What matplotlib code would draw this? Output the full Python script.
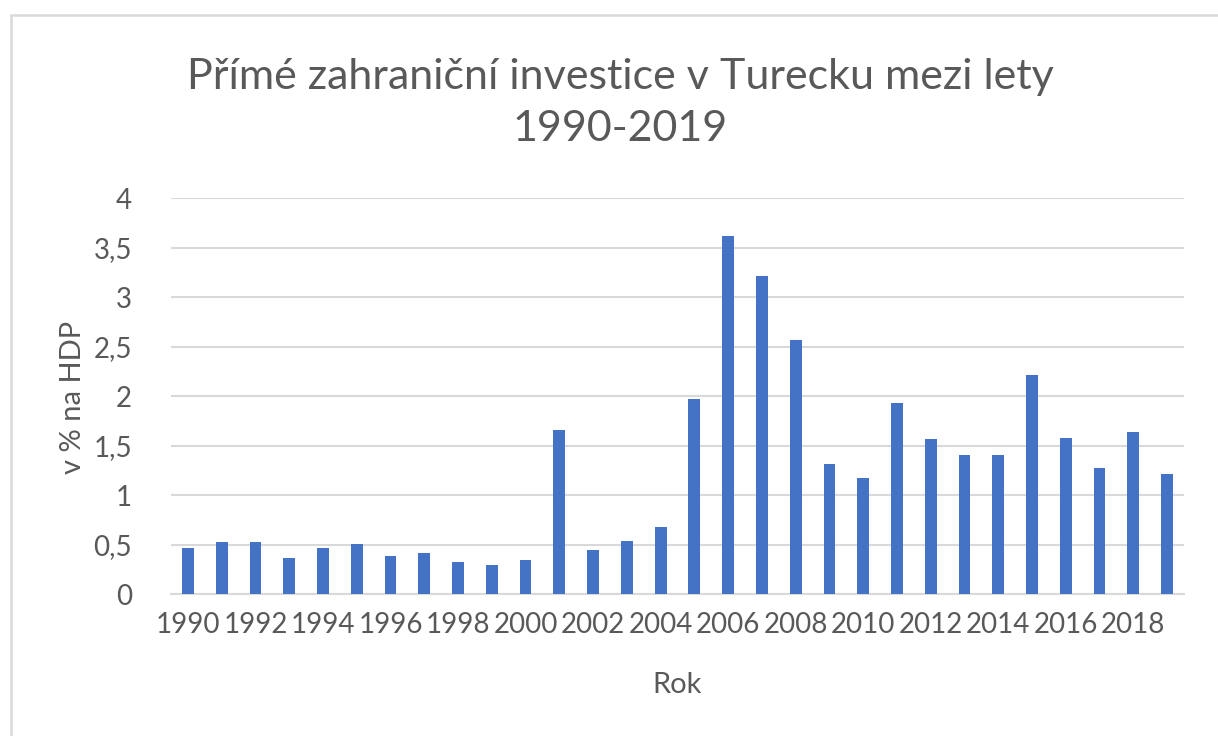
import matplotlib
matplotlib.use("Agg")
import matplotlib.pyplot as plt
from matplotlib.patches import Rectangle

years = list(range(1990, 2020))
values = [0.47, 0.53, 0.53, 0.365, 0.47, 0.51, 0.385, 0.415, 0.33, 0.30,
          0.35, 1.66, 0.45, 0.535, 0.675, 1.97, 3.62, 3.22, 2.57, 1.32,
          1.17, 1.93, 1.57, 1.41, 1.41, 2.22, 1.58, 1.28, 1.64, 1.22]
yticks = [0, 0.5, 1, 1.5, 2, 2.5, 3, 3.5, 4]
ytick_labels = ["0", "0,5", "1", "1,5", "2", "2,5", "3", "3,5", "4"]
title = "Přímé zahraniční investice v Turecku mezi lety\n1990-2019"
xlabel = "Rok"
ylabel = "v % na HDP"

TXT = "#595959"
GRID = "#D9D9D9"
BAR = "#4472C4"
plt.rcParams["font.family"] = ["Lato", "DejaVu Sans"]

W, H = 1218, 736
fig = plt.figure(figsize=(W / 100, H / 100), dpi=100)

# outer chart-area border
fig.patches.append(Rectangle((11 / W, -0.1), 1.2, 1 - 15 / H + 0.1,
                             transform=fig.transFigure, fill=False,
                             edgecolor=GRID, linewidth=1.8))

ax = fig.add_axes([171 / W, 1 - 594.3 / H, (1184 - 171) / W, (594.3 - 198.3) / H])
x = list(range(len(years)))
ax.bar(x, values, width=0.35, color=BAR, zorder=3)
ax.set_xlim(-0.5, len(years) - 0.5)
ax.set_ylim(0, 4)
ax.set_yticks(yticks)
ax.set_yticklabels(ytick_labels)
ax.set_xticks(x[::2])
ax.set_xticklabels([str(y) for y in years[::2]])
ax.grid(axis="y", color=GRID, linewidth=1.5, zorder=0)
for s in ["top", "right", "left"]:
    ax.spines[s].set_visible(False)
ax.spines["bottom"].set_color(GRID)
ax.spines["bottom"].set_linewidth(1.5)
ax.tick_params(axis="both", length=0, labelsize=20, labelcolor=TXT)
ax.tick_params(axis="y", pad=28)
ax.tick_params(axis="x", pad=13)

fig.text(73 / W, 1 - 397 / H, ylabel, rotation=90, ha="center", va="center",
         fontsize=21, color=TXT)
fig.text(677 / W, 1 - 685 / H, xlabel, ha="center", va="center",
         fontsize=21, color=TXT)
fig.text(620 / W, 1 - 103 / H, title, ha="center", va="center",
         fontsize=31, color=TXT, linespacing=1.45)

fig.savefig("out.png", dpi=100)
